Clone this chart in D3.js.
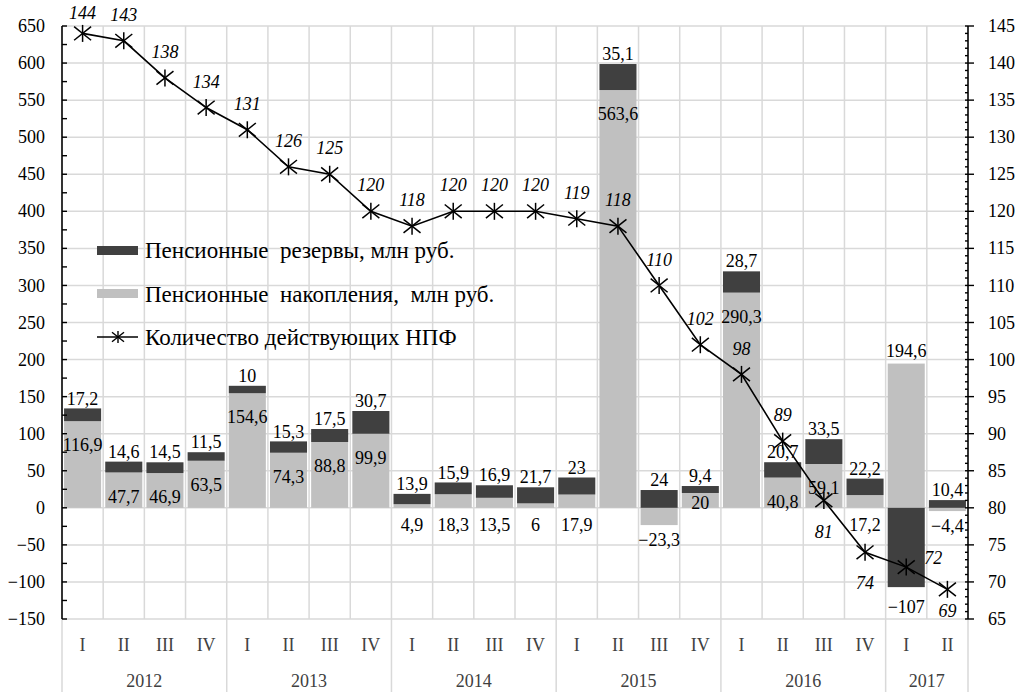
<!DOCTYPE html>
<html>
<head>
<meta charset="utf-8">
<script src="https://cdn.jsdelivr.net/npm/d3@7"></script>
<style>
  html, body { margin: 0; padding: 0; background: #fff; }
  svg { display: block; }
</style>
</head>
<body>
<svg id="chart" width="1016" height="692"></svg>
<script>
// Quarters and years
const quarters = ["I","II","III","IV","I","II","III","IV","I","II","III","IV",
                  "I","II","III","IV","I","II","III","IV","I","II"];
const years = [
  { label: "2012", first: 0, count: 4 },
  { label: "2013", first: 4, count: 4 },
  { label: "2014", first: 8, count: 4 },
  { label: "2015", first: 12, count: 4 },
  { label: "2016", first: 16, count: 4 },
  { label: "2017", first: 20, count: 2 }
];

// Pension reserves, mln rub.
const reserves = [17.2, 14.6, 14.5, 11.5, 10, 15.3, 17.5, 30.7, 13.9, 15.9, 16.9, 21.7,
                  23, 35.1, 24, 9.4, 28.7, 20.7, 33.5, 22.2, -107, 10.4];
// Pension savings, mln rub.
const savings = [116.9, 47.7, 46.9, 63.5, 154.6, 74.3, 88.8, 99.9, 4.9, 18.3, 13.5, 6,
                 17.9, 563.6, -23.3, 20, 290.3, 40.8, 59.1, 17.2, 194.6, -4.4];
// Number of operating non-state pension funds
const funds = [144, 143, 138, 134, 131, 126, 125, 120, 118, 120, 120, 120,
               119, 118, 110, 102, 98, 89, 81, 74, 72, 69];

const leftTicks = d3.range(-150, 651, 50);
const rightTicks = d3.range(65, 146, 5);

const legendLabels = [
  "Пенсионные  резервы, млн руб.",
  "Пенсионные  накопления,  млн руб.",
  "Количество действующих НПФ"
];

const DARK = "#404040", LIGHT = "#c0c0c0", GRID = "#d9d9d9";
const SERIF = "'Liberation Serif', 'Times New Roman', serif";

const svg = d3.select("#chart").style("font-family", SERIF);
const plotL = 62, plotR = 968, plotT = 26, plotB = 619;

const x = d3.scaleBand().domain(d3.range(quarters.length))
  .range([plotL, plotR]).paddingInner(0.1).paddingOuter(0.05);
const step = x.step();
const yL = d3.scaleLinear().domain([-150, 650]).range([plotB, plotT]);
const yR = d3.scaleLinear().domain([65, 145]).range([plotB, plotT]);

const fmt = v => String(v).replace(".", ",").replace("-", "\u2212");

// grid
const grid = svg.append("g").attr("stroke", GRID).attr("stroke-width", 1.5);
grid.selectAll("line.h").data(leftTicks).join("line")
  .attr("x1", plotL).attr("x2", plotR)
  .attr("y1", d => yL(d)).attr("y2", d => yL(d));
grid.selectAll("line.v").data(d3.range(1, quarters.length)).join("line")
  .attr("x1", i => plotL + i * step).attr("x2", i => plotL + i * step)
  .attr("y1", plotT).attr("y2", plotB);
// year separators in the category area
const seps = [0].concat(years.map(y => y.first + y.count));
grid.selectAll("line.s").data(seps).join("line")
  .attr("x1", i => plotL + i * step).attr("x2", i => plotL + i * step)
  .attr("y1", plotB).attr("y2", 692);

// stacked bars
const rows = quarters.map((q, i) => ({ i, savings: savings[i], reserves: reserves[i] }));
const stack = d3.stack().keys(["savings", "reserves"]).offset(d3.stackOffsetDiverging);
const series = stack(rows);
const colors = { savings: LIGHT, reserves: DARK };

svg.append("g").selectAll("g").data(series).join("g")
  .attr("fill", s => colors[s.key])
  .selectAll("rect").data(s => s).join("rect")
  .attr("x", d => x(d.data.i))
  .attr("width", x.bandwidth())
  .attr("y", d => yL(Math.max(d[0], d[1])))
  .attr("height", d => Math.abs(yL(d[0]) - yL(d[1])));

// text vertically centred on its y
function label(sel) {
  return sel.attr("dy", "0.34em");
}

// bar value labels
const resSeries = series.find(s => s.key === "reserves");
const savSeries = series.find(s => s.key === "savings");
const vlab = svg.append("g").attr("font-size", 18).attr("fill", "#000")
  .attr("text-anchor", "middle");

vlab.selectAll("text.r").data(resSeries).join("text")
  .attr("x", d => x(d.data.i) + x.bandwidth() / 2)
  .attr("y", d => d.data.reserves >= 0 ? yL(d[1]) - 10 : yL(d[0]) + 20)
  .call(label)
  .text(d => fmt(d.data.reserves));

vlab.selectAll("text.s").data(savSeries).join("text")
  .attr("x", d => x(d.data.i) + x.bandwidth() / 2)
  .attr("y", d => {
    const s = d.data.savings, r = d.data.reserves;
    if (s < 0) return yL(s) + 15;
    if (r < 0) return yL(s) - 13;
    if (s >= 40) return yL(s) + 24;
    if (s >= 20) return yL(s) + 10;
    return yL(0) + 17;
  })
  .call(label)
  .text(d => fmt(d.data.savings));

// fund count line
const cx = i => x(i) + x.bandwidth() / 2;
svg.append("path")
  .datum(funds)
  .attr("fill", "none").attr("stroke", "#000").attr("stroke-width", 1.6)
  .attr("d", d3.line().x((d, i) => cx(i)).y(d => yR(d)));

function star(g, r) {
  g.append("line").attr("x1", 0).attr("x2", 0).attr("y1", -r).attr("y2", r);
  g.append("line").attr("x1", -r).attr("x2", r).attr("y1", -r * 0.8).attr("y2", r * 0.8);
  g.append("line").attr("x1", -r).attr("x2", r).attr("y1", r * 0.8).attr("y2", -r * 0.8);
}
svg.append("g").attr("stroke", "#000").attr("stroke-width", 1.5)
  .selectAll("g").data(funds).join("g")
  .attr("transform", (d, i) => `translate(${cx(i)},${yR(d)})`)
  .each(function () { star(d3.select(this), 8.5); });

// fund count labels
const below = { 18: 31, 19: 31, 21: 22 };
svg.append("g").attr("font-size", 18).attr("font-style", "italic").attr("fill", "#000")
  .attr("text-anchor", "middle")
  .selectAll("text").data(funds).join("text")
  .attr("x", (d, i) => i === 20 ? cx(i) + 27 : cx(i))
  .attr("y", (d, i) => {
    if (i === 20) return yR(d) - 9;
    if (below[i] !== undefined) return yR(d) + below[i];
    return Math.max(13, yR(d) - 26);
  })
  .call(label)
  .text(d => d);

// left axis
const axL = svg.append("g");
axL.append("line").attr("x1", plotL).attr("x2", plotL).attr("y1", plotT).attr("y2", plotB)
  .attr("stroke", "#000").attr("stroke-width", 1.6);
axL.selectAll("line.t").data(d3.range(-150, 651, 25)).join("line")
  .attr("x1", plotL).attr("x2", plotL + 5)
  .attr("y1", d => yL(d)).attr("y2", d => yL(d))
  .attr("stroke", "#000").attr("stroke-width", 1.4);
axL.selectAll("text").data(leftTicks).join("text")
  .attr("x", 45).attr("y", d => yL(d)).attr("text-anchor", "end")
  .attr("font-size", 18).attr("fill", "#000")
  .call(label)
  .text(d => fmt(d));

// right axis
const axR = svg.append("g");
axR.append("line").attr("x1", plotR).attr("x2", plotR).attr("y1", plotT).attr("y2", plotB)
  .attr("stroke", "#000").attr("stroke-width", 1.6);
axR.selectAll("line.m").data(d3.range(65, 146, 1)).join("line")
  .attr("x1", plotR - 3).attr("x2", d => d % 5 === 0 ? plotR + 6 : plotR)
  .attr("y1", d => yR(d)).attr("y2", d => yR(d))
  .attr("stroke", "#000").attr("stroke-width", 1.4);
axR.selectAll("text").data(rightTicks).join("text")
  .attr("x", 988).attr("y", d => yR(d))
  .attr("font-size", 18).attr("fill", "#000")
  .call(label)
  .text(d => d);

// category axis
const cat = svg.append("g").attr("font-size", 18).attr("fill", "#404040").attr("text-anchor", "middle");
cat.selectAll("text.q").data(quarters).join("text")
  .attr("x", (d, i) => cx(i)).attr("y", 651).text(d => d);
cat.selectAll("text.y").data(years).join("text")
  .attr("x", d => plotL + (d.first + d.count / 2) * step).attr("y", 687)
  .text(d => d.label);

// legend
const lg = svg.append("g").attr("transform", "translate(97,0)");
lg.append("rect").attr("x", 0).attr("y", 246).attr("width", 41).attr("height", 9).attr("fill", DARK);
lg.append("rect").attr("x", 0).attr("y", 289).attr("width", 41).attr("height", 9).attr("fill", LIGHT);
lg.append("line").attr("x1", 0).attr("x2", 41).attr("y1", 337).attr("y2", 337)
  .attr("stroke", "#000").attr("stroke-width", 1.5);
const lgStar = lg.append("g").attr("transform", "translate(21,337)")
  .attr("stroke", "#000").attr("stroke-width", 1.4);
star(lgStar, 6);
lg.selectAll("text").data(legendLabels).join("text")
  .attr("x", 48).attr("y", (d, i) => [250, 294, 337][i])
  .attr("font-size", 23).attr("fill", "#000")
  .style("white-space", "pre")
  .call(label)
  .text(d => d);
</script>
</body>
</html>
